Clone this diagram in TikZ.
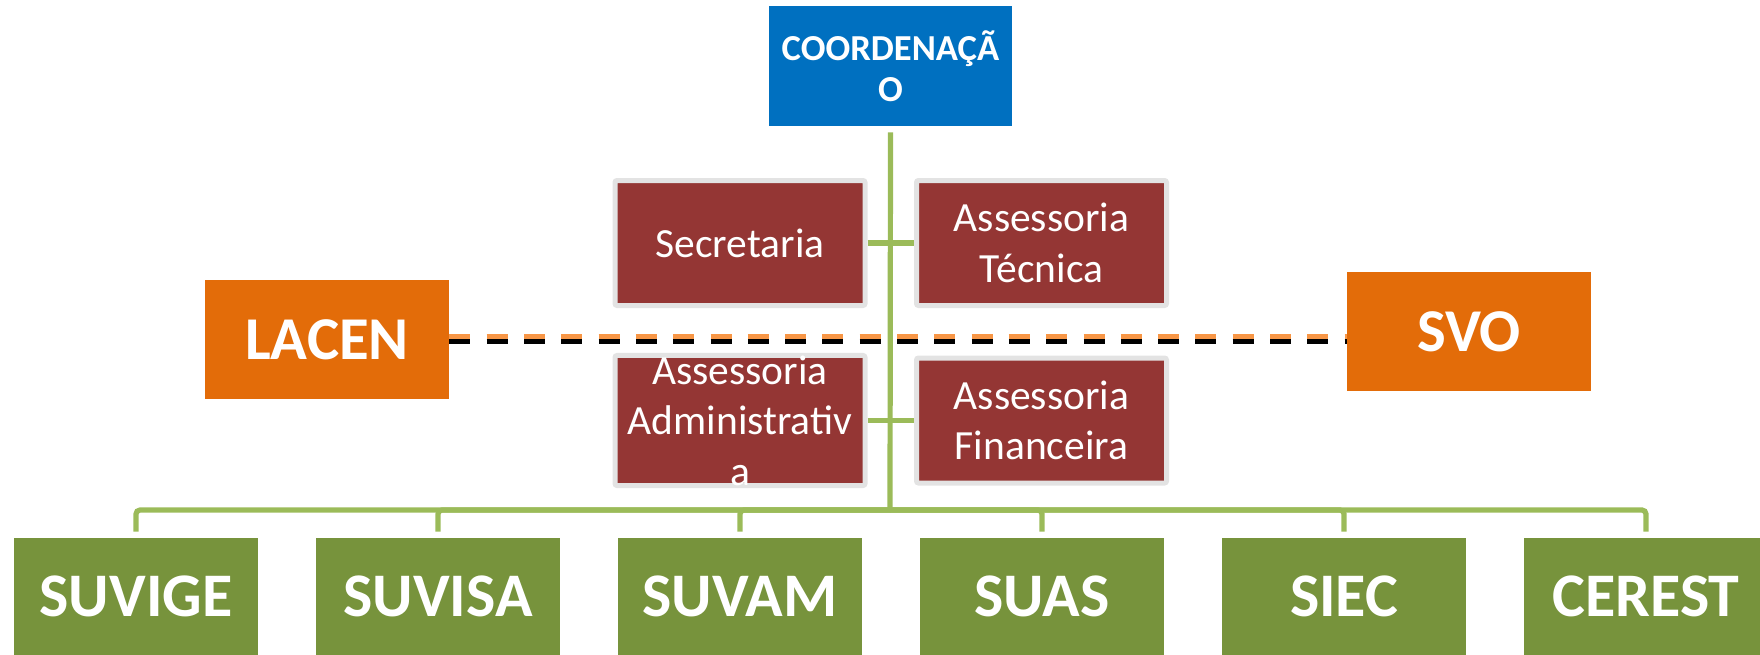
\documentclass[tikz,border=0pt]{standalone}
\usepackage{fontspec}
\setmainfont{Carlito}
\definecolor{cblue}{HTML}{0070C0}
\definecolor{cred}{HTML}{943634}
\definecolor{cgray}{HTML}{E3E3E3}
\definecolor{corange}{HTML}{E36C09}
\definecolor{cgreen}{HTML}{77933C}
\definecolor{lgreen}{HTML}{9BBB59}
\definecolor{dorange}{HTML}{F79646}
\begin{document}
\begin{tikzpicture}[x=0.5pt,y=-0.5pt,
  basebox/.style={inner sep=0pt, align=center, text=white},
  coordbox/.style={basebox, fill=cblue, minimum width=121.5pt, minimum height=60pt,
    font=\bfseries\fontsize{18.3}{20.5}\selectfont},
  redbox/.style={basebox, fill=cred, draw=cgray, line width=2.5pt, rounded corners=1pt,
    minimum width=125pt, minimum height=62.5pt,
    font=\fontsize{20.75}{25.3}\selectfont},
  orbox/.style={basebox, fill=corange, minimum width=122pt, minimum height=59.5pt,
    font=\bfseries\fontsize{30.4}{36}\selectfont},
  grbox/.style={basebox, fill=cgreen, minimum width=122pt, minimum height=61pt, text depth=3pt,
    font=\bfseries\fontsize{31}{37}\selectfont},
  conn/.style={draw=lgreen, line width=2.6pt},
  dashline/.style={line width=2.5pt, dash pattern=on 10.5pt off 8.15pt}
]
\useasboundingbox (0,0) rectangle (1760,654);

\node[coordbox] (coord) at (890.5,66) {COORDENAÇÃ\\O};

\node[redbox] (sec) at (740,243) {Secretaria};
\node[redbox] (tec) at (1041.5,243) {Assessoria\\Técnica};
\node[redbox] (adm) at (740,420.5) {Assessoria\\Administrativ\\a};
\node[redbox] (fin) at (1041.5,420.5) {Assessoria\\Financeira};

\node[orbox] (lacen) at (327,339.5) {LACEN};
\node[orbox] (svo) at (1469,331.5) {SVO};

\node[grbox] (suvige) at (136,599) {SUVIGE};
\node[grbox] (suvisa) at (438,599) {SUVISA};
\node[grbox] (suvam) at (740,599) {SUVAM};
\node[grbox] (suas) at (1042,599) {SUAS};
\node[grbox] (siec) at (1344,599) {SIEC};
\node[grbox] (cerest) at (1646,599) {CEREST};

% dashed link LACEN -- SVO
\draw[dashline, black] ([yshift=-1pt]lacen.east) -- ([yshift=-1pt]lacen.east -| svo.west);
\draw[dashline, dorange] ([yshift=1.5pt]lacen.east) -- ([yshift=1.5pt]lacen.east -| svo.west);

% tree connectors
\coordinate (bus) at (890,510);
\draw[conn, shorten <=3pt] (coord.south) -- (bus);
\draw[conn] (sec.east) -- (tec.west);
\draw[conn] (adm.east) -- (fin.west);
\foreach \n in {suvige,suvisa,suvam,suas,siec,cerest}{
  \draw[conn, rounded corners=2pt, shorten >=3pt] (bus) -| (\n.north);
}
\end{tikzpicture}
\end{document}
